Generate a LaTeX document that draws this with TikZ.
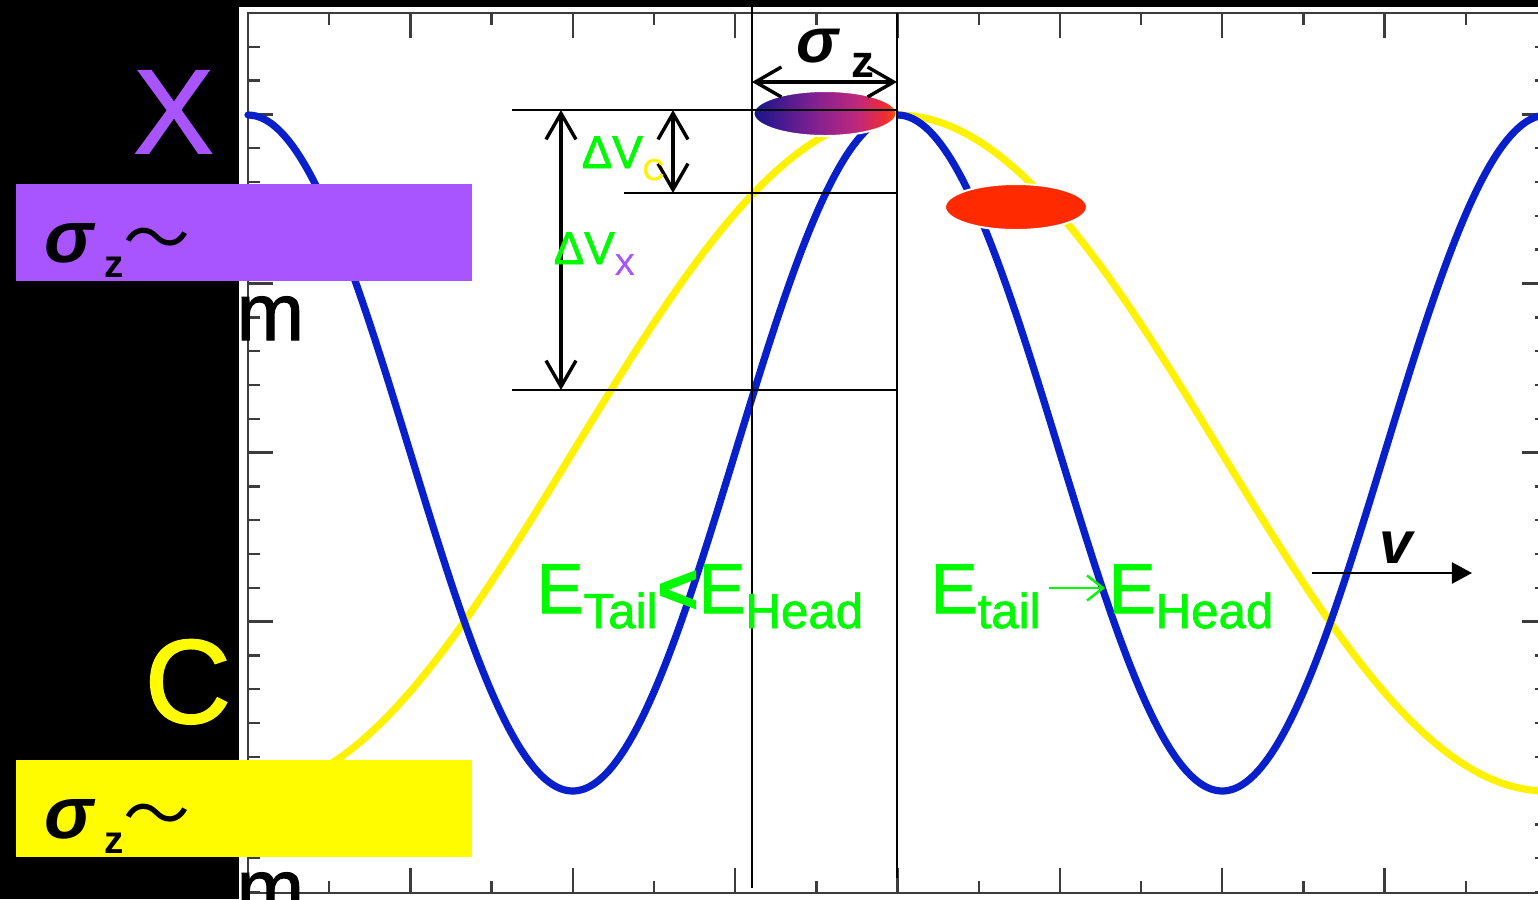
\documentclass[tikz,border=0pt]{standalone}
\usepackage{fontspec}
\setmainfont{Liberation Sans}
\newfontfamily\medfont[FakeBold=1.4]{Liberation Sans}
\newfontfamily\cjk{Noto Sans CJK JP}
\usetikzlibrary{arrows.meta}
\definecolor{xpurple}{RGB}{168,85,255}
\definecolor{cyellow}{RGB}{255,252,0}
\definecolor{wavblue}{RGB}{8,32,204}
\definecolor{egreen}{RGB}{0,250,0}
\definecolor{bunchred}{RGB}{255,42,0}
\definecolor{axisgray}{RGB}{60,60,60}
\pgfdeclarehorizontalshading{bunchshade}{100bp}{rgb(0bp)=(0.09,0.08,0.55); rgb(25bp)=(0.09,0.08,0.55); rgb(47bp)=(0.52,0.13,0.57); rgb(62bp)=(0.76,0.16,0.47); rgb(71bp)=(0.94,0.17,0.20); rgb(75bp)=(1,0.33,0.0); rgb(100bp)=(1,0.33,0.0)}
\newcommand\fsz[1]{\fontsize{#1}{#1}\selectfont}
\tikzset{
  wave/.style={line width=0.72mm, line cap=round},
  bluewave/.style={wave, draw=wavblue},
  yellowwave/.style={wave, draw=yellow},
  axisline/.style={draw=axisgray, line width=0.22mm},
  tick/.style={draw=axisgray, line width=0.24mm},
  guide/.style={draw=black, line width=0.16mm},
  dimarrow/.style={draw=black, line width=0.32mm, {Straight Barb[length=2.6mm,width=3mm,line width=0.34mm]}-{Straight Barb[length=2.6mm,width=3mm,line width=0.34mm]}},
  varrow/.style={draw=black, line width=0.22mm, -{Triangle[length=2mm,width=2.1mm]}},
  evarrow/.style={draw=egreen, line width=0.24mm, -{Straight Barb[length=1.6mm,width=2.5mm]}},
  bunch/.style={draw=white, line width=0.2mm},
  unitbox/.style={inner sep=0pt, minimum width=45.6mm, minimum height=9.7mm, anchor=north west},
  lbl/.style={inner sep=0pt, anchor=base west},
}

\begin{document}
\begin{tikzpicture}[x=0.01cm,y=-0.01cm]
\useasboundingbox (0,0) rectangle (1538,899);
\fill[black] (0,0) rectangle (1538,899);
\fill[white] (239,7) rectangle (1538,899);
% frame and ticks
\draw[axisline] (248,13) rectangle (1547,893);
\foreach \k in {0,...,16}{
  \ifodd\k \def\ticklen{12}\else\def\ticklen{25}\fi
  \draw[tick] ({248+81.19*\k},13) -- ++(0,\ticklen);
  \draw[tick] ({248+81.19*\k},893) -- ++(0,-\ticklen);
}
\foreach \j in {0,...,26}{
  \pgfmathparse{mod(\j,5)==3 ? 25 : 12}\let\ticklen\pgfmathresult
  \draw[tick] (248,{13+33.81*\j}) -- ++(\ticklen,0);
  \draw[tick] (1547,{13+33.81*\j}) -- ++(-\ticklen,0);
}
% the two waves
\draw[yellowwave] plot[domain=248:1547, samples=260, smooth] (\x,{453-338*cos(0.277136*(\x-897))});
\draw[bluewave] plot[domain=248:1547, samples=260, smooth] (\x,{453-338*cos(0.554273*(\x-248))});
% bunches
\shadedraw[bunch, shading=bunchshade] (825,113.5) ellipse [x radius=71.5, y radius=22.5];
\filldraw[bunch, fill=bunchred] (1016,207) ellipse [x radius=71, y radius=23];
% guide lines
\coordinate (tailtop) at (752,7);
\coordinate (tailbot) at (752,888);
\coordinate (headtop) at (897,13);
\coordinate (headbot) at (897,878);
\coordinate (crestl) at (512,110);
\coordinate (crestr) at (897,110);
\coordinate (clvl) at (624,193);
\coordinate (crvl) at (897,193);
\coordinate (xlvl) at (512,390);
\coordinate (xrvl) at (897,390);
\draw[guide] (tailtop) -- (tailbot);
\draw[guide] (headtop) -- (headbot);
\draw[guide] (crestl) -- (crestr);
\draw[guide] (clvl) -- (crvl);
\draw[guide] (xlvl) -- (xrvl);
% dimension arrows
\coordinate (dvxtop) at (561,110);
\coordinate (dvxbot) at (561,390);
\coordinate (dvctop) at (673,110);
\coordinate (dvcbot) at (673,193);
\coordinate (szl) at (752,82);
\coordinate (szr) at (897,82);
\draw[dimarrow] (dvxtop) -- (dvxbot);
\draw[dimarrow] (dvctop) -- (dvcbot);
\draw[dimarrow] (szl) -- (szr);
\coordinate (vstart) at (1312,573);
\coordinate (vend) at (1472,573);
\draw[varrow] (vstart) -- (vend);
% labels
\node[lbl, text=egreen] (dvc) at (581,168) {\medfont\fsz{13}ΔV\raisebox{-3.4pt}{\fsz{8.5}\color{yellow}C}};
\node[lbl, text=egreen] (dvx) at (553,264) {\medfont\fsz{13}ΔV\raisebox{-3.1pt}{\fsz{8.5}\color{xpurple}X}};
\node[lbl] (sigz) at (796,62) {\fsz{18}\bfseries\itshape σ\hspace{3.5pt}\raisebox{-4.27pt}{\upshape\fsz{13}z}};
\node[lbl] (vlabel) at (1379,563) {\fsz{17}\bfseries\itshape v};
\node[lbl, text=egreen] (ecompare) at (536,613) {\medfont\fsz{20}E\raisebox{-4.27pt}{\fsz{14}Tail}{\bfseries<}E\raisebox{-4.27pt}{\fsz{14}Head}};
\node[lbl, text=egreen] (etail) at (930,613) {\medfont\fsz{20}E\raisebox{-4.27pt}{\fsz{14}tail}};
\node[lbl, text=egreen] (ehead) at (1108,613) {\medfont\fsz{20}E\raisebox{-4.27pt}{\fsz{14}Head}};
\draw[evarrow] ([shift={(8,-25)}]etail.base east) -- ([shift={(-3,-25)}]ehead.base west);
% element names and bunch lengths
\node[lbl, text=xpurple] (xname) at (133,153) {\medfont\fsz{34}X};
\node[lbl, text=cyellow] (cname) at (144,723) {\medfont\fsz{34}C};
\node[unitbox, fill=xpurple] (xbox) at (15,183) {};
\node[unitbox, fill=cyellow] (cbox) at (15,759) {};
\node[lbl] (xsig) at (44,262) {\fsz{21}\bfseries\itshape σ\hspace{3pt}\raisebox{-4.27pt}{\upshape\fsz{11}z}\upshape\mdseries\cjk\fsz{19}〜};
\node[lbl] (csig) at (44,838) {\fsz{21}\bfseries\itshape σ\hspace{3pt}\raisebox{-4.27pt}{\upshape\fsz{11}z}\upshape\mdseries\cjk\fsz{19}〜};
\node[lbl] (xunit) at (236,340) {\medfont\fsz{23}m};
\node[lbl] (cunit) at (236,916) {\medfont\fsz{23}m};
\end{tikzpicture}
\end{document}
